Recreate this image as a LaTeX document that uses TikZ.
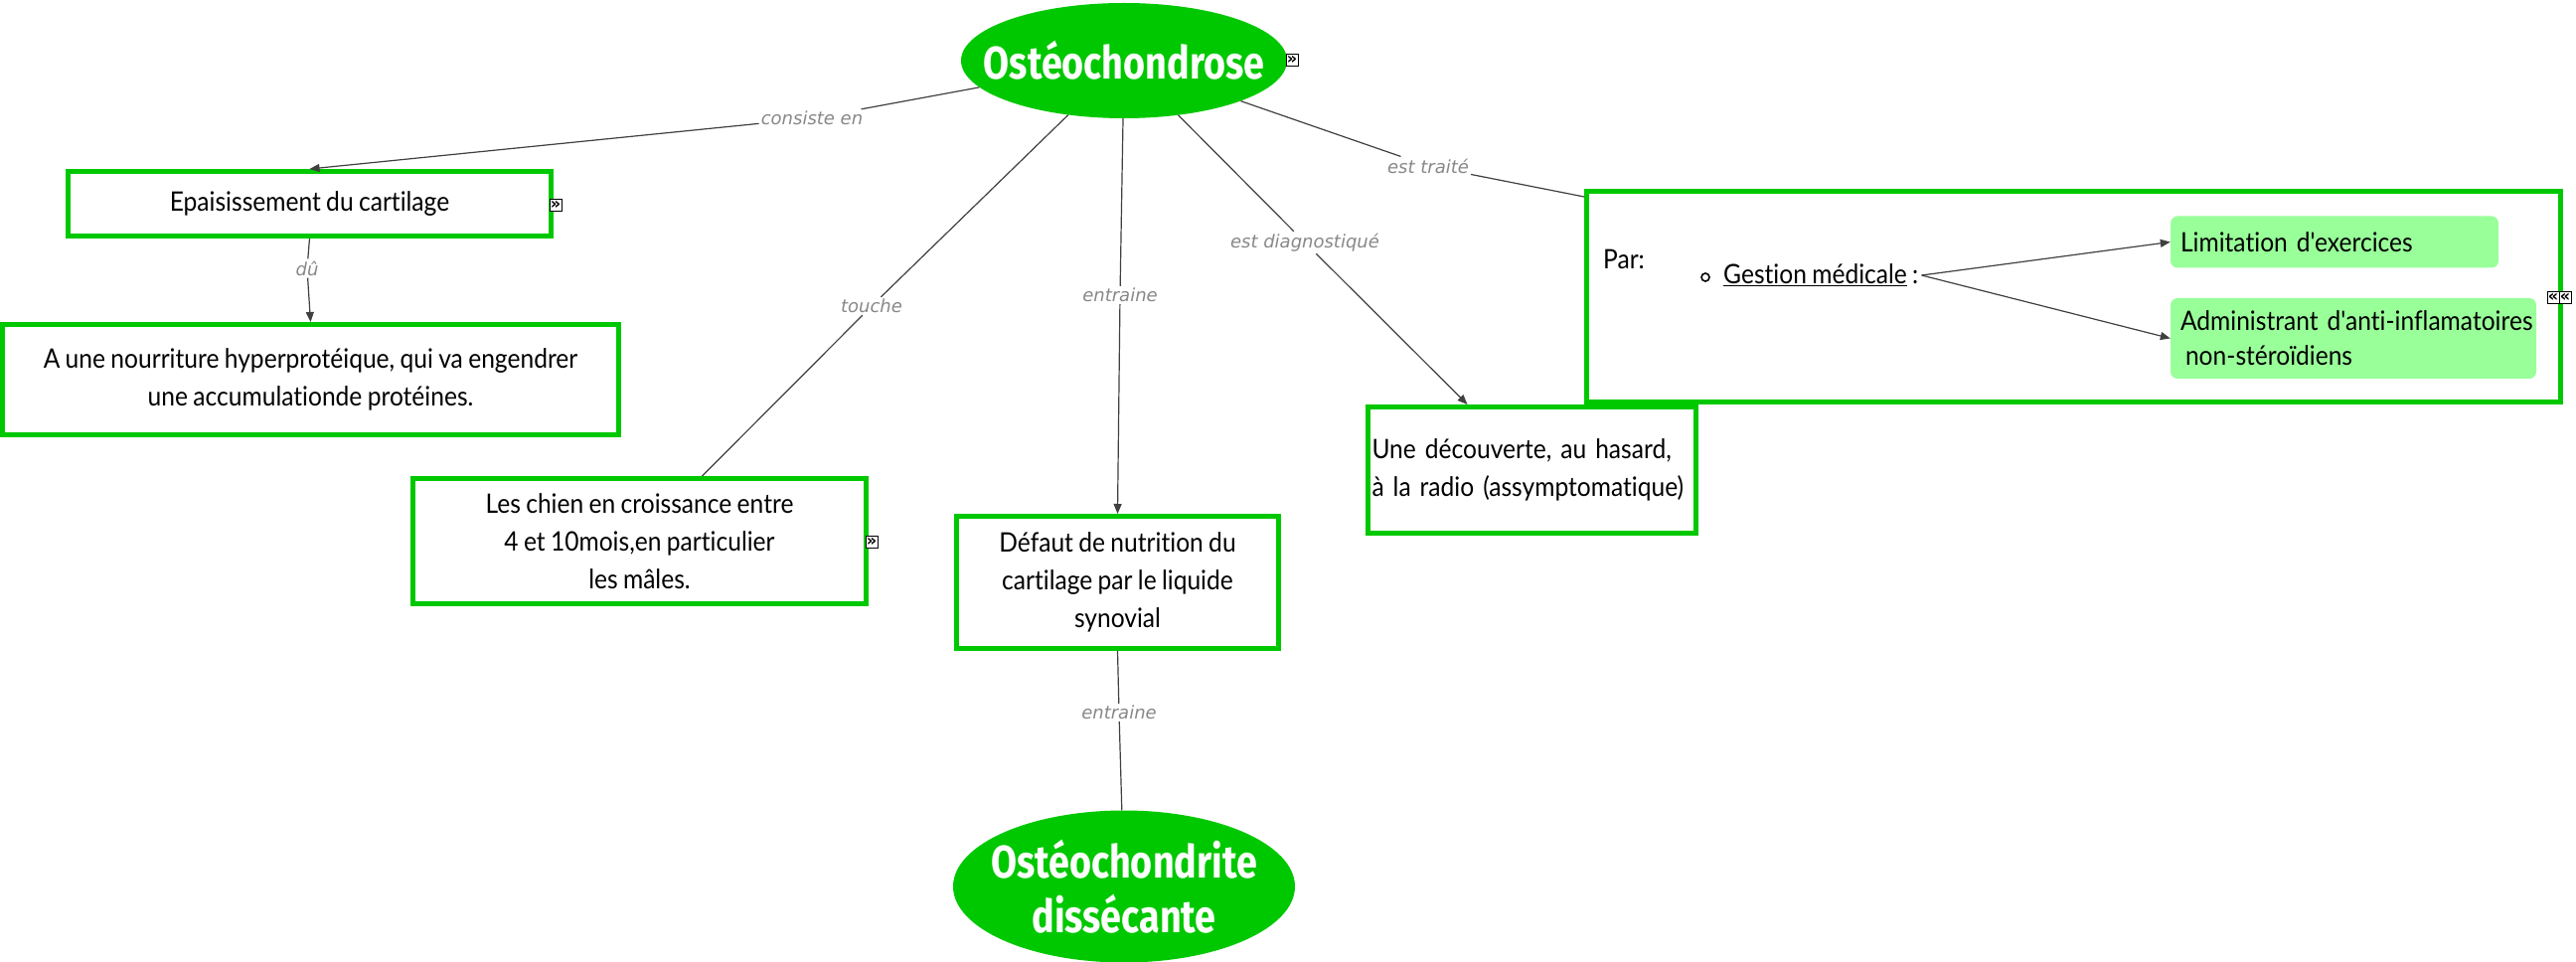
\documentclass[tikz,border=0pt]{standalone}
\usepackage{fontspec}
\usetikzlibrary{shapes.geometric,arrows.meta,calc}
\newfontfamily\nodefont{Lato}[FakeStretch=0.91, WordSpace=0.85, Ligatures={NoCommon}]
\newfontfamily\titlefont{Fira Sans}[FakeStretch=0.82]
\newfontfamily\linkfont{DejaVu Sans}
\definecolor{cgreen}{RGB}{0,200,0}
\definecolor{lgreen}{RGB}{153,255,153}
\definecolor{lgray}{RGB}{136,136,136}
\definecolor{cline}{RGB}{64,64,64}
\begin{document}
\begin{tikzpicture}[x=1pt,y=-1pt,
 concept/.style={draw=cgreen, line width=5pt, fill=white, rectangle, inner sep=0pt, font=\nodefont\fontsize{27}{38}\selectfont, align=center},
 bigell/.style={ellipse, fill=cgreen, inner sep=0pt, text=white, font=\titlefont\bfseries\fontsize{46}{55}\selectfont, align=center},
 link/.style={font=\linkfont\itshape\fontsize{18}{20}\selectfont, text=lgray, inner sep=2pt},
 conn/.style={draw=cline, line width=1.2pt},
 arr/.style={conn, -{Triangle[length=10pt,width=8pt]}},
 subbox/.style={fill=lgreen, rounded corners=7pt, inner ysep=0pt, inner xsep=10pt, font=\nodefont\fontsize{27}{35}\selectfont, align=left},
 plain/.style={inner sep=2pt, font=\nodefont\fontsize{27}{35}\selectfont},
 icon/.style={draw=black, fill=white, line width=0.8pt, minimum width=12pt, minimum height=12pt, inner sep=0pt, font=\linkfont\bfseries\fontsize{16}{16}\selectfont}
]
\useasboundingbox (0,0) rectangle (2592,968);
\fill[white] (0,0) rectangle (2592,968);

% concepts
\node[bigell, minimum width=328pt, minimum height=116pt] (o1) at (1131,61) {\makebox[0pt]{Ostéochondrose}};
\node[concept, minimum width=486pt, minimum height=65pt] (epa) at (311.5,205) {Epaisissement du cartilage};
\node[concept, minimum width=620pt, minimum height=111pt] (nour) at (312.5,382) {A une nourriture hyperprotéique, qui va engendrer\\une accumulationde protéines.};
\node[concept, minimum width=456pt, minimum height=126pt] (chien) at (643.5,544.5) {Les chien en croissance entre\\4 et 10mois,en particulier\\les mâles.};
\node[concept, minimum width=324pt, minimum height=133pt] (defaut) at (1124.5,586) {Défaut de nutrition du\\cartilage par le liquide\\synovial};
\node[concept, minimum width=330pt, minimum height=127pt, text width=322pt, align=left] (dec) at (1541.5,473) {Une découverte, au hasard,\\à la radio (assymptomatique)};
\node[concept, minimum width=980pt, minimum height=212pt] (par) at (2086.5,298.5) {};
\node[bigell, minimum width=344pt, minimum height=153pt] (o2) at (1131,892) {\makebox[0pt]{Ostéochondrite}\\\makebox[0pt]{dissécante}};

% inside the treatment box
\node[plain, anchor=west] (partxt) at (1611,261) {Par:};
\node[circle, draw=black, line width=1.6pt, minimum size=8pt, inner sep=0pt] (bul) at (1716,279) {};
\node[plain, anchor=west, inner xsep=3pt] (gest) at (1731,277) {\underline{Gestion médicale} :};
\node[subbox, minimum height=52pt, text width=310pt] (limit) at (2349,243.5) {Limitation d'exercices};
\node[subbox, minimum height=81pt, text width=348pt] (admin) at (2368,340.5) {\mbox{Administrant d'anti-inflamatoires}\\\hspace*{5pt}non-stéroïdiens};

% icons
\node[icon] (i1) at (1300,60) {»};
\node[icon] (i2) at (559,206) {»};
\node[icon] (i3) at (877,545) {»};
\node[icon] (i4) at (2569,299) {«};
\node[icon] (i5) at (2581,299) {«};

% linking phrases
\node[link] (l1) at (817,119) {consiste en};
\node[link] (l2) at (309,270) {dû};
\node[link] (l3) at (877,308) {touche};
\node[link] (l4) at (1127,297) {entraine};
\node[link] (l5) at (1313,244) {est diagnostiqué};
\node[link] (l6) at (1437,167) {est traité};
\node[link] (l7) at (1126,717) {entraine};

% connectors
\draw[conn] (o1) -- (l1);
\draw[arr] (l1) -- (epa.north);
\draw[conn] (epa.south) -- (l2);
\draw[arr] (l2) -- (nour.north);
\draw[conn] (o1) -- (l3);
\draw[conn] (l3) -- ($(chien.north)+(63,0)$);
\draw[conn] (o1) -- (l4);
\draw[arr] (l4) -- (defaut.north);
\draw[conn] (o1) -- (l5);
\draw[arr] (l5) -- ($(dec.north)+(-65,0)$);
\draw[conn] (o1) -- (l6);
\draw[conn] (l6) -- ($(par.north west)+(0,8)$);
\draw[conn] (defaut.south) -- (l7);
\draw[conn] (l7) -- (o2);
\draw[arr] (gest.east) -- (limit.west);
\draw[arr] (gest.east) -- (admin.west);
\end{tikzpicture}
\end{document}
